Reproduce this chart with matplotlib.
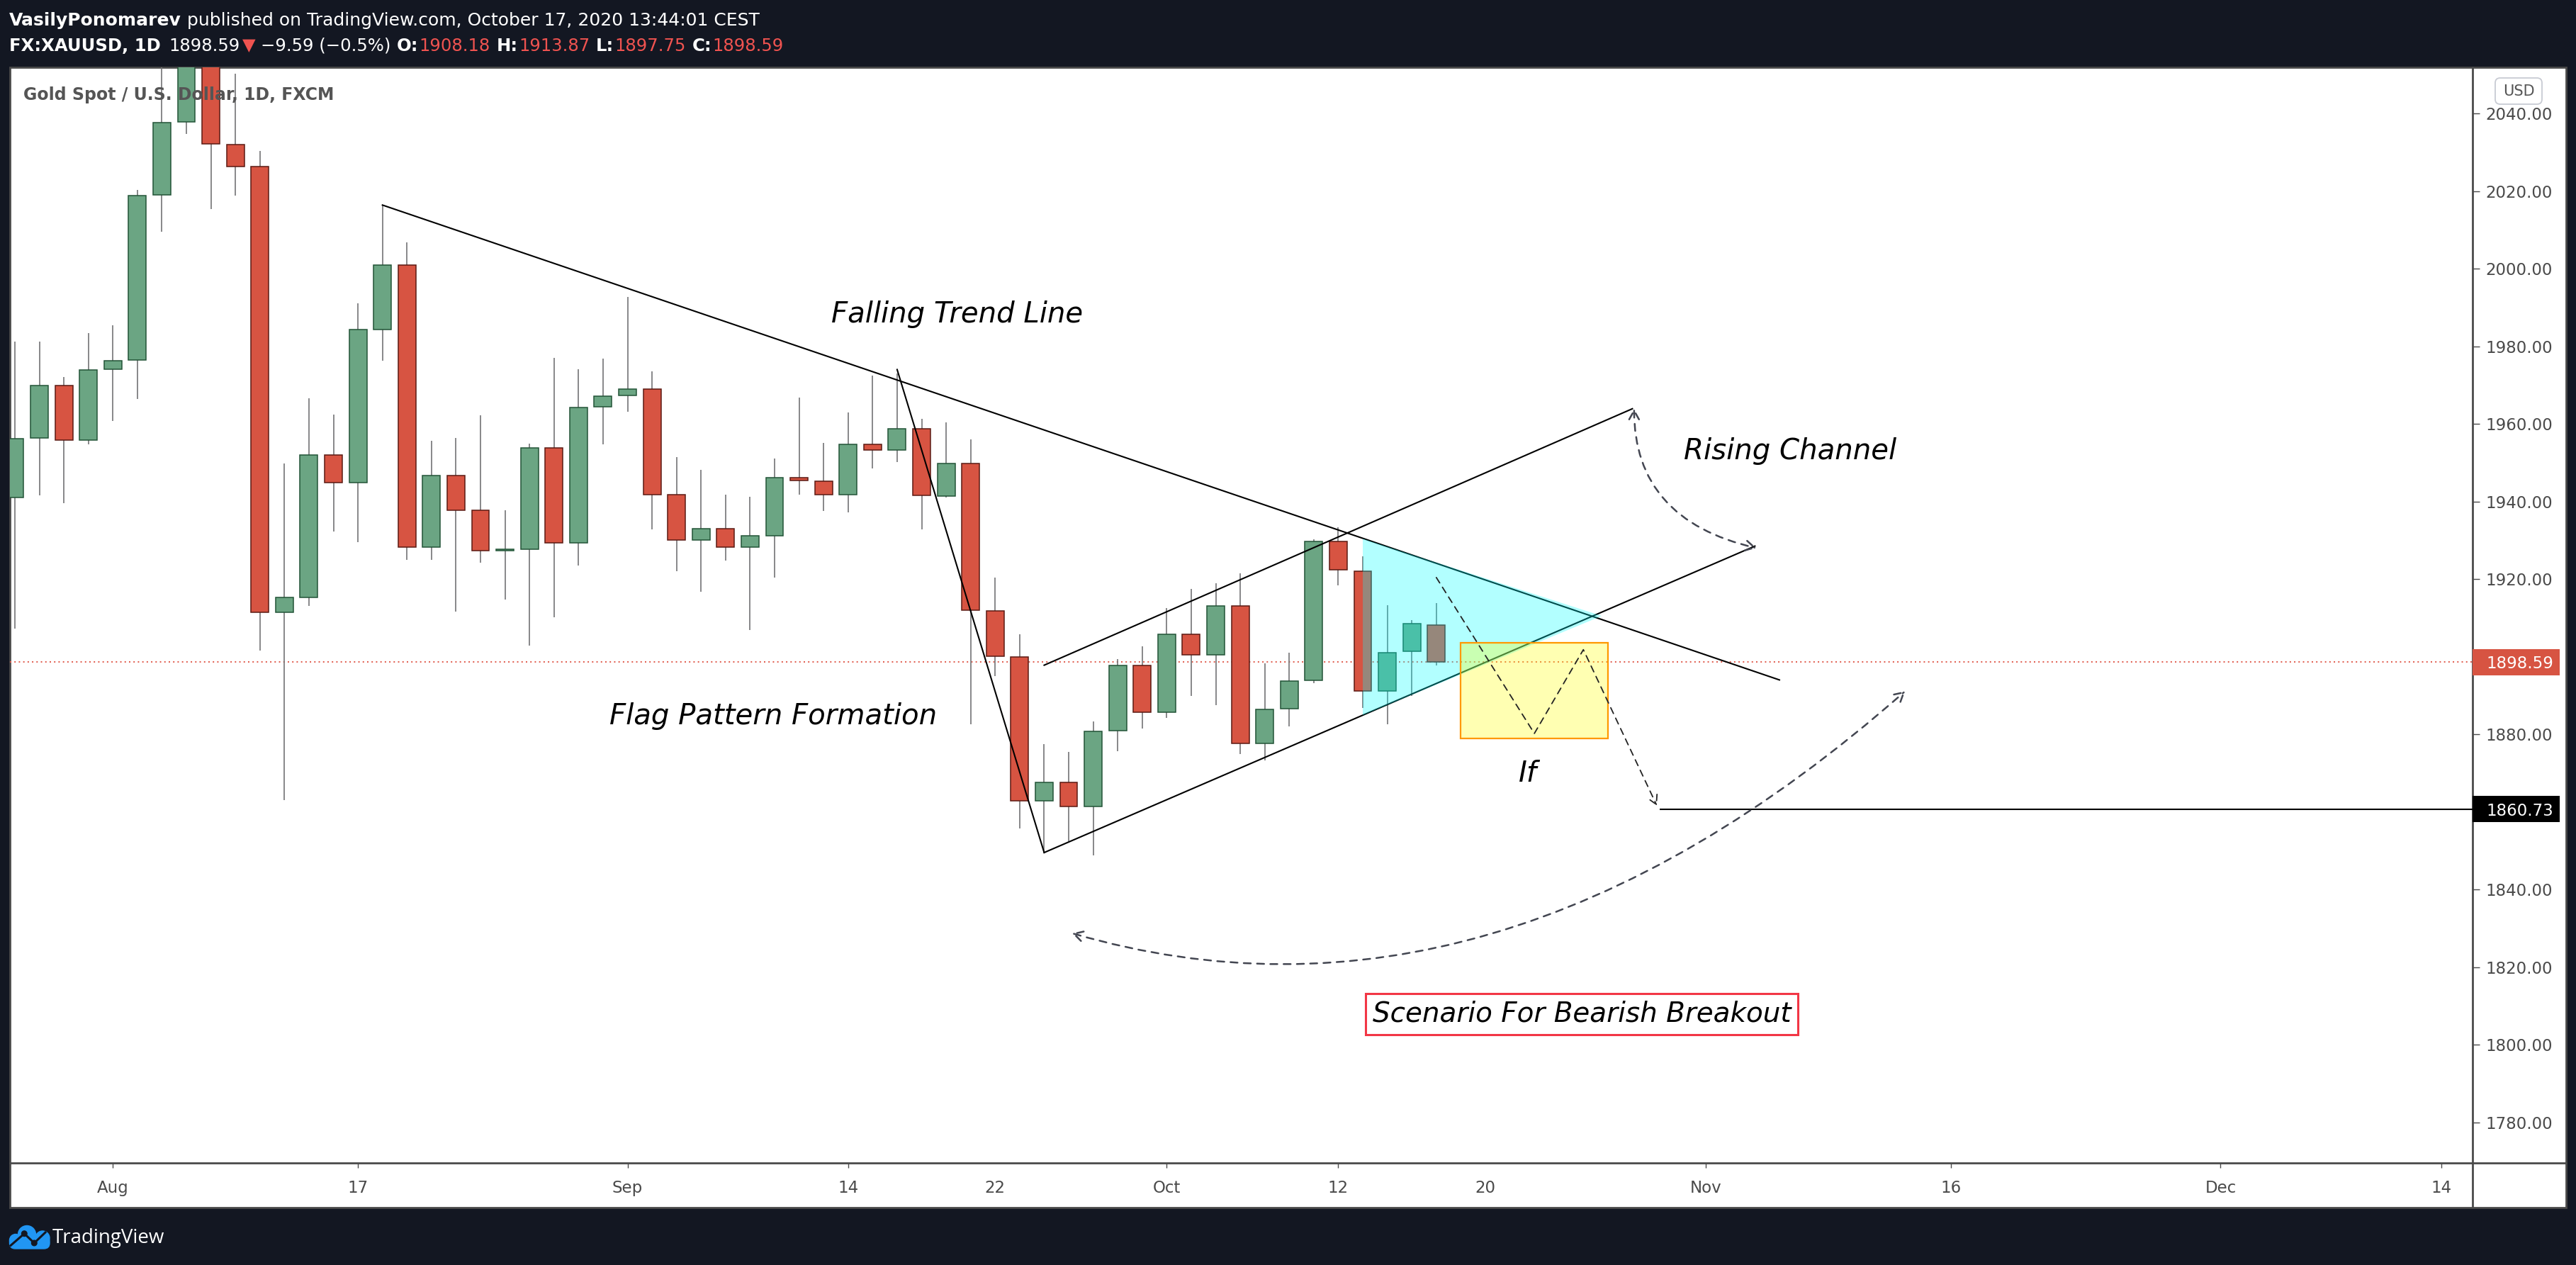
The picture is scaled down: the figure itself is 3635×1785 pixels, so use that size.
import matplotlib
matplotlib.use("Agg")
import matplotlib.pyplot as plt
import matplotlib.transforms as mtransforms
from matplotlib.patches import Rectangle, Polygon, FancyArrowPatch, Circle, FancyBboxPatch
from matplotlib.path import Path
import numpy as np
import pandas as pd

W, H = 3635, 1785
BG = "#131722"
UP, UP_EDGE = "#6ba583", "#225437"
DN, DN_EDGE = "#d75442", "#5b1a13"
WICK = "#737375"
AXTXT = "#4a4a4a"
FRAME = "#4a4a4a"
RED_TXT = "#f05350"

# ---- FX:XAUUSD daily candles ----
dates = pd.bdate_range("2020-07-28", "2020-10-16")
opens = [1941.0, 1956.3, 1969.9, 1955.9,
         1974.1, 1976.5, 2019.0, 2037.8, 2062.5, 2032.0, 2026.3, 1911.5, 1915.3, 1951.9,
         1944.8, 1984.4, 2000.9, 1928.2, 1946.6, 1937.8, 1927.3, 1927.6, 1953.9, 1929.4,
         1964.4, 1967.3, 1969.0, 1941.7, 1930.1, 1933.0, 1928.3, 1931.2, 1946.2, 1945.3,
         1941.7, 1954.7, 1953.3, 1958.8, 1941.4, 1949.8, 1911.8, 1899.9, 1862.8, 1867.5,
         1861.4, 1881.0, 1897.8, 1885.6, 1905.8, 1900.5, 1913.1, 1877.7, 1886.6, 1893.9,
         1929.7, 1922.1, 1891.2, 1901.3, 1908.18]
highs = [1981.3, 1981.2, 1972.0, 1983.4,
         1985.4, 2020.3, 2055.0, 2069.4, 2075.0, 2050.2, 2030.3, 1949.8, 1966.6, 1962.4,
         1991.0, 2016.4, 2006.8, 1955.6, 1956.3, 1962.2, 1937.8, 1954.9, 1977.0, 1974.0,
         1976.8, 1992.7, 1973.5, 1951.4, 1948.1, 1941.7, 1941.2, 1951.1, 1966.8, 1955.1,
         1962.9, 1972.4, 1973.0, 1961.3, 1960.3, 1956.0, 1920.4, 1905.7, 1877.4, 1875.4,
         1883.3, 1899.4, 1902.6, 1912.5, 1917.4, 1919.0, 1921.5, 1898.2, 1901.0, 1930.2,
         1933.4, 1925.8, 1913.2, 1909.4, 1913.87]
lows = [1907.3, 1941.6, 1939.5, 1954.7,
        1960.7, 1966.5, 2009.6, 2034.8, 2015.4, 2018.9, 1901.5, 1863.1, 1913.0, 1932.2,
        1929.6, 1976.2, 1924.9, 1924.9, 1911.7, 1924.2, 1914.7, 1902.9, 1910.1, 1923.4,
        1954.7, 1963.2, 1932.8, 1922.1, 1916.8, 1924.7, 1906.8, 1920.3, 1941.7, 1937.5,
        1937.1, 1948.6, 1950.2, 1932.8, 1941.0, 1882.5, 1894.9, 1855.8, 1849.6, 1852.5,
        1848.8, 1875.7, 1881.5, 1884.3, 1889.9, 1887.5, 1874.9, 1873.3, 1882.1, 1893.1,
        1918.4, 1886.7, 1882.6, 1889.8, 1897.75]
closes = [1956.2, 1969.9, 1955.9, 1973.9,
          1976.3, 2018.9, 2037.7, 2062.5, 2032.1, 2026.3, 1911.5, 1915.3, 1951.9, 1944.8,
          1984.4, 2000.9, 1928.2, 1946.6, 1937.8, 1927.4, 1927.6, 1953.9, 1929.4, 1964.3,
          1967.2, 1969.0, 1941.7, 1930.1, 1933.0, 1928.3, 1931.1, 1946.2, 1945.4, 1941.7,
          1954.7, 1953.3, 1958.8, 1941.5, 1949.8, 1912.0, 1900.1, 1862.8, 1867.5, 1861.4,
          1880.8, 1897.8, 1885.6, 1905.8, 1900.5, 1913.1, 1877.7, 1886.4, 1893.8, 1929.7,
          1922.3, 1891.2, 1901.1, 1908.5, 1898.59]

# time axis
cal = pd.bdate_range("2020-07-28", "2020-12-31")
tick_dates = ["2020-08-03", "2020-08-17", "2020-09-01", "2020-09-14", "2020-09-22", "2020-10-01",
              "2020-10-12", "2020-10-20", "2020-11-02", "2020-11-16", "2020-12-01", "2020-12-14"]
tick_text = ["Aug", "17", "Sep", "14", "22", "Oct", "12", "20", "Nov", "16", "Dec", "14"]
tick_minor_only = ["22", "20"]
price_ticks = [2040, 2020, 2000, 1980, 1960, 1940, 1920, 1880, 1840, 1820, 1800, 1780]

# drawings (x in bars from first candle, y in price)
trend_x, trend_y = [15, 72], [2016.4, 1894.0]
pole_x, pole_y = [36, 42], [1974.0, 1849.5]
chan_lo_x, chan_lo_y = [42, 71], [1849.5, 1928.5]
chan_hi_x, chan_hi_y = [42, 66], [1897.8, 1963.9]
tri_x, tri_y = [55, 55, 64.75], [1930.4, 1884.9, 1910.5]
box_x, box_y = [59, 65], [1879.0, 1903.6]
zig_x, zig_y = [58, 62, 64, 67], [1920.4, 1880.2, 1901.8, 1861.6]
level_x, level_y = 67.1, 1860.73
small_curve = [(66.07, 1963.9), (66.07, 1935.3), (71.06, 1928.0)]
big_curve = [(43.14, 1828.7), (60.25, 1797.3), (77.13, 1891.1)]

fig = plt.figure(figsize=(W / 100, H / 100), dpi=100, facecolor=BG)
renderer = fig.canvas.get_renderer()

# background frame in pixel units
frame = fig.add_axes([0, 0, 1, 1], zorder=-1)
frame.set_xlim(0, W)
frame.set_ylim(H, 0)
frame.axis("off")
frame.add_patch(Rectangle((14, 95), 3621 - 14, 1704 - 95, fc="white", ec=FRAME, lw=2))
frame.plot([3489, 3489], [95, 1704], color=FRAME, lw=2)
frame.plot([14, 3621], [1641, 1641], color=FRAME, lw=2)

# TradingView logo
blue = "#2196f3"
frame.add_patch(Circle((38, 1742), 12.5, color=blue))
frame.add_patch(Circle((22, 1750), 8.5, color=blue))
frame.add_patch(Circle((60, 1747), 10, color=blue))
frame.add_patch(FancyBboxPatch((13.5, 1744), 56.5, 18, boxstyle="round,pad=0,rounding_size=8", color=blue))
frame.plot([15, 34.3, 48.3, 64], [1757.5, 1740.7, 1754, 1739], color=BG, lw=2.2)
frame.add_patch(Circle((34.3, 1740.7), 3.8, color=BG))
frame.add_patch(Circle((48.3, 1754), 3.8, color=BG))
frame.text(74, 1753.5, "TradingView", color="white", fontsize=20, family="Open Sans", va="baseline")

# main chart
ax = fig.add_axes([14 / W, 1 - 1641 / H, (3489 - 14) / W, (1641 - 95) / H])
ax.patch.set_alpha(0)
for s in ax.spines.values():
    s.set_visible(False)
ax.set_xlim(-0.2, 100.28)
ax.set_ylim(1769.5, 2051.9)

x = np.arange(len(dates))
o, h, l, c = map(np.array, (opens, highs, lows, closes))
up = c >= o
ax.vlines(x, l, h, color=WICK, lw=1.2, zorder=2)
ax.bar(x, np.maximum(np.abs(c - o), 0.25), width=0.72, bottom=np.minimum(o, c),
       color=np.where(up, UP, DN), edgecolor=np.where(up, UP_EDGE, DN_EDGE), linewidth=1.1, zorder=2.5)

last = closes[-1]
ax.axhline(last, color="#e0594a", lw=1.4, ls=(0, (1, 2.2)), zorder=1.5)

# trend lines / channel
for xs, ys in [(trend_x, trend_y), (pole_x, pole_y), (chan_lo_x, chan_lo_y), (chan_hi_x, chan_hi_y)]:
    ax.plot(xs, ys, color="black", lw=1.5, zorder=3)
ax.hlines(level_y, level_x, ax.get_xlim()[1], color="black", lw=1.5, zorder=3)

ax.add_patch(Polygon(list(zip(tri_x, tri_y)), closed=True, fc=(0, 1, 1, 0.3), ec="none", zorder=4))
ax.add_patch(Rectangle((box_x[0], box_y[0]), box_x[1] - box_x[0], box_y[1] - box_y[0],
                       fc=(1, 1, 0, 0.3), ec="#ff9800", lw=1.6, zorder=5))

# dashed scenario path
zig = Path(list(zip(zig_x, zig_y)), [Path.MOVETO] + [Path.LINETO] * (len(zig_x) - 1))
ax.add_patch(FancyArrowPatch(path=zig, arrowstyle="->,head_length=0.45,head_width=0.25", mutation_scale=20,
                             color="#222222", lw=1.3, linestyle=(0, (5, 4)), zorder=6))
for pts in (small_curve, big_curve):
    p = Path(pts, [Path.MOVETO, Path.CURVE3, Path.CURVE3])
    ax.add_patch(FancyArrowPatch(path=p, arrowstyle="<->,head_length=0.45,head_width=0.25", mutation_scale=20,
                                 color="#434651", lw=1.8, linestyle=(0, (4, 3.5)), zorder=6))

# labels
txt = dict(fontsize=29, style="italic", family="DejaVu Sans", color="black", zorder=7)
ax.text(38.44, 1986.2, "Falling Trend Line", ha="center", va="baseline", **txt)
ax.text(72.45, 1950.9, "Rising Channel", ha="center", va="baseline", **txt)
ax.text(30.95, 1882.5, "Flag Pattern Formation", ha="center", va="baseline", **txt)
ax.text(61.73, 1867.7, "If", ha="center", va="baseline", **txt)
txt["fontsize"] = 28
ax.text(63.93, 1807.9, "Scenario For Bearish Breakout", ha="center", va="center",
        bbox=dict(boxstyle="square,pad=0.25", fc="white", ec="#f23645", lw=2.2), **txt)

# axes ticks
ax.yaxis.tick_right()
ax.set_yticks(price_ticks)
ax.set_yticklabels([f"{v:.2f}" for v in price_ticks])
ax.tick_params(axis="y", direction="out", length=7, width=1, color=FRAME, labelcolor=AXTXT,
               pad=6.5, labelsize=16.5)
tick_pos = cal.get_indexer(pd.to_datetime(tick_dates))
ax.set_xticks(tick_pos)
ax.set_xticklabels(tick_text)
ax.tick_params(axis="x", direction="out", length=5, width=1, color=FRAME, labelcolor=AXTXT,
               pad=12, labelsize=16.5)
for t, s in zip(ax.xaxis.get_major_ticks(), tick_text):
    if s in tick_minor_only:
        t.tick1line.set_visible(False)
for lab in ax.get_xticklabels() + ax.get_yticklabels():
    lab.set_family("DejaVu Sans")

# price labels on the scale
blend = mtransforms.blended_transform_factory(ax.transAxes, ax.transData)
for val, col in [(last, "#d75442"), (level_y, "black")]:
    ax.add_patch(Rectangle((1.0, val - 3.38), 123 / 3475, 6.76, transform=blend, fc=col, ec="none",
                           clip_on=False, zorder=10))
    ax.text(1 + 19 / 3475, val, f"{val:.2f}", transform=blend, color="white", fontsize=16.5,
            va="center_baseline", ha="left", clip_on=False, zorder=11, family="DejaVu Sans")

# overlay: header, title, currency badge
top = fig.add_axes([0, 0, 1, 1], zorder=5)
top.set_xlim(0, W)
top.set_ylim(H, 0)
top.axis("off")
top.patch.set_alpha(0)


def header_line(x0, y0, parts, size=18):
    # parts: (text, colour, weight, gap after in px)
    px = x0
    for s, col, wt, gap in parts:
        t = top.text(px, y0, s, color=col, fontweight=wt, fontsize=size, va="baseline", ha="left",
                     family=["DejaVu Sans"])
        px += t.get_window_extent(renderer).width + gap


header_line(13, 36, [("VasilyPonomarev", "white", "bold", 8),
                     ("published on TradingView.com, October 17, 2020 13:44:01 CEST", "white", "normal", 0)])
header_line(13, 71.5, [("FX:XAUUSD, 1D", "white", "bold", 12), ("1898.59", "white", "normal", 3),
                       ("▼", RED_TXT, "normal", 7), ("−9.59 (−0.5%)", "white", "normal", 9),
                       ("O:", "white", "bold", 1), ("1908.18", RED_TXT, "normal", 9),
                       ("H:", "white", "bold", 1), ("1913.87", RED_TXT, "normal", 9),
                       ("L:", "white", "bold", 1), ("1897.75", RED_TXT, "normal", 9),
                       ("C:", "white", "bold", 1), ("1898.59", RED_TXT, "normal", 0)], size=17.5)
top.text(33, 141, "Gold Spot / U.S. Dollar, 1D, FXCM", color="#555555", fontweight="bold",
         fontsize=17, va="baseline", family="DejaVu Sans")
top.add_patch(FancyBboxPatch((3521, 110), 66, 37, boxstyle="round,pad=0,rounding_size=7",
                             fc="white", ec="#c8cbd3", lw=1.3))
top.text(3554, 129, "USD", color="#555555", fontsize=15, ha="center", va="center", family="DejaVu Sans")

fig.savefig("out.png", dpi=100, facecolor=BG)
